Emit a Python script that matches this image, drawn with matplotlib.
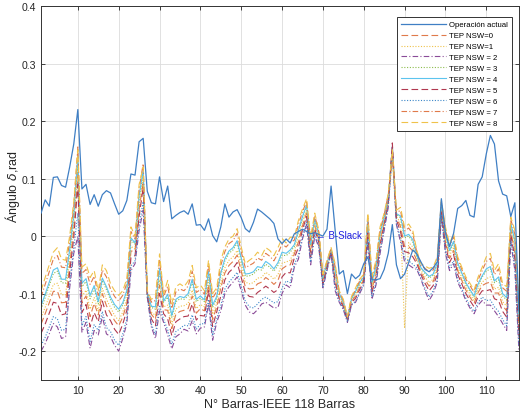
import numpy as np
import matplotlib
matplotlib.use("Agg")
import matplotlib.pyplot as plt

## ========================================================
## Datos: ángulos de las 118 barras (rad)
## ========================================================
operacion = [
    0.040, 0.063, 0.052, 0.102, 0.103, 0.088, 0.085, 0.120, 0.160, 0.220,
    0.082, 0.090, 0.055, 0.072, 0.052, 0.072, 0.079, 0.075, 0.056, 0.038,
    0.044, 0.062, 0.108, 0.106, 0.164, 0.170, 0.078, 0.058, 0.056, 0.103,
    0.060, 0.087, 0.030, 0.036, 0.041, 0.044, 0.038, 0.056, 0.019, 0.020,
    0.010, 0.030, 0.001, -0.010, 0.016, 0.056, 0.033, 0.042, 0.046, 0.032,
    0.013, 0.007, 0.024, 0.047, 0.042, 0.036, 0.030, 0.022, -0.005, -0.013,
    -0.005, -0.012, 0.004, 0.008, 0.012, 0.008, 0.004, 0.006, 0.003, 0.000,
    0.012, 0.087, 0.010, -0.066, -0.060, -0.100, -0.066, -0.074, -0.068, -0.048,
    -0.036, -0.076, -0.076, -0.074, -0.058, -0.030, 0.020, -0.050, -0.074, -0.066,
    -0.046, -0.024, -0.031, -0.045, -0.058, -0.062, -0.055, -0.045, 0.065, 0.005,
    -0.018, 0.005, 0.048, 0.053, 0.062, 0.036, 0.033, 0.090, 0.103, 0.143,
    0.175, 0.160, 0.096, 0.073, 0.070, 0.034, 0.058, -0.130,
]

tep_nsw0 = [
    -0.153, -0.135, -0.116, -0.096, -0.096, -0.116, -0.115, -0.050, 0.011, 0.110,
    -0.116, -0.104, -0.140, -0.117, -0.137, -0.100, -0.121, -0.134, -0.147, -0.156,
    -0.141, -0.117, -0.026, -0.026, 0.046, 0.095, -0.101, -0.136, -0.145, -0.085,
    -0.128, -0.129, -0.161, -0.136, -0.131, -0.129, -0.126, -0.104, -0.134, -0.126,
    -0.130, -0.084, -0.145, -0.123, -0.090, -0.064, -0.051, -0.044, -0.033, -0.061,
    -0.088, -0.092, -0.091, -0.083, -0.080, -0.072, -0.077, -0.084, -0.077, -0.057,
    -0.052, -0.050, -0.031, -0.010, 0.018, 0.040, -0.028, 0.018, -0.007, -0.079,
    -0.052, -0.026, -0.074, -0.106, -0.120, -0.146, -0.113, -0.104, -0.089, -0.076,
    0.013, -0.092, -0.066, -0.009, 0.024, 0.061, 0.150, 0.031, 0.017, -0.018,
    -0.018, -0.026, -0.043, -0.063, -0.076, -0.087, -0.079, -0.060, 0.046, -0.009,
    -0.039, -0.025, -0.060, -0.077, -0.094, -0.106, -0.117, -0.098, -0.086, -0.082,
    -0.080, -0.099, -0.099, -0.121, -0.130, 0.009, -0.029, -0.163,
]

tep_nsw1 = [
    -0.142, -0.124, -0.104, -0.084, -0.082, -0.102, -0.102, -0.041, 0.020, 0.120,
    -0.105, -0.094, -0.127, -0.107, -0.130, -0.091, -0.110, -0.124, -0.138, -0.147,
    -0.132, -0.109, -0.018, -0.022, 0.054, 0.100, -0.100, -0.132, -0.138, -0.076,
    -0.123, -0.120, -0.153, -0.127, -0.122, -0.121, -0.117, -0.094, -0.126, -0.119,
    -0.123, -0.076, -0.136, -0.117, -0.082, -0.055, -0.042, -0.036, -0.025, -0.053,
    -0.080, -0.083, -0.081, -0.073, -0.072, -0.063, -0.068, -0.075, -0.067, -0.047,
    -0.045, -0.042, -0.025, -0.003, 0.024, 0.045, -0.024, 0.022, -0.004, -0.077,
    -0.050, -0.025, -0.069, -0.104, -0.118, -0.145, -0.112, -0.101, -0.086, -0.075,
    0.018, -0.088, -0.061, -0.005, 0.027, 0.063, 0.135, 0.034, 0.023, -0.160,
    -0.011, -0.019, -0.040, -0.060, -0.071, -0.081, -0.075, -0.056, 0.049, -0.005,
    -0.034, -0.019, -0.056, -0.072, -0.089, -0.101, -0.112, -0.093, -0.080, -0.074,
    -0.071, -0.092, -0.089, -0.114, -0.122, 0.014, -0.022, -0.155,
]

tep_nsw2 = [
    -0.200, -0.187, -0.170, -0.152, -0.158, -0.178, -0.175, -0.090, -0.030, 0.000,
    -0.167, -0.150, -0.195, -0.164, -0.172, -0.140, -0.170, -0.175, -0.190, -0.200,
    -0.178, -0.152, -0.060, -0.048, 0.010, 0.045, -0.106, -0.158, -0.178, -0.130,
    -0.150, -0.172, -0.196, -0.175, -0.170, -0.162, -0.165, -0.147, -0.170, -0.160,
    -0.158, -0.118, -0.181, -0.150, -0.130, -0.100, -0.088, -0.080, -0.071, -0.095,
    -0.120, -0.132, -0.135, -0.128, -0.118, -0.115, -0.120, -0.125, -0.124, -0.100,
    -0.085, -0.090, -0.054, -0.040, -0.005, 0.020, -0.050, 0.000, -0.020, -0.090,
    -0.060, -0.030, -0.095, -0.115, -0.128, -0.150, -0.120, -0.115, -0.100, -0.085,
    -0.010, -0.110, -0.085, -0.030, 0.010, 0.050, 0.158, 0.020, -0.010, -0.045,
    -0.050, -0.055, -0.058, -0.075, -0.095, -0.112, -0.100, -0.080, 0.033, -0.030,
    -0.060, -0.048, -0.080, -0.095, -0.112, -0.125, -0.135, -0.120, -0.112, -0.120,
    -0.120, -0.130, -0.140, -0.152, -0.164, -0.010, -0.060, -0.200,
]

tep_nsw3 = [
    -0.127, -0.107, -0.086, -0.065, -0.061, -0.081, -0.082, -0.027, 0.033, 0.135,
    -0.088, -0.079, -0.109, -0.091, -0.118, -0.077, -0.093, -0.111, -0.124, -0.132,
    -0.120, -0.097, -0.007, -0.014, 0.066, 0.110, -0.098, -0.124, -0.127, -0.061,
    -0.115, -0.106, -0.141, -0.114, -0.109, -0.110, -0.104, -0.080, -0.114, -0.108,
    -0.114, -0.065, -0.124, -0.108, -0.068, -0.043, -0.030, -0.024, -0.012, -0.042,
    -0.070, -0.069, -0.066, -0.058, -0.059, -0.049, -0.054, -0.061, -0.051, -0.033,
    -0.034, -0.028, -0.018, 0.007, 0.031, 0.052, -0.016, 0.028, 0.001, -0.073,
    -0.047, -0.023, -0.062, -0.101, -0.115, -0.143, -0.110, -0.098, -0.083, -0.072,
    0.025, -0.082, -0.055, 0.002, 0.031, 0.067, 0.145, 0.038, 0.032, -0.003,
    0.000, -0.010, -0.035, -0.056, -0.065, -0.073, -0.068, -0.049, 0.053, 0.002,
    -0.027, -0.012, -0.049, -0.066, -0.083, -0.095, -0.106, -0.086, -0.071, -0.061,
    -0.057, -0.081, -0.076, -0.104, -0.111, 0.020, -0.011, -0.143,
]

tep_nsw4 = [
    -0.121, -0.101, -0.080, -0.059, -0.055, -0.075, -0.075, -0.023, 0.038, 0.140,
    -0.082, -0.074, -0.103, -0.086, -0.114, -0.073, -0.088, -0.106, -0.119, -0.127,
    -0.116, -0.094, -0.003, -0.012, 0.070, 0.115, -0.098, -0.122, -0.123, -0.056,
    -0.113, -0.101, -0.138, -0.110, -0.105, -0.107, -0.100, -0.075, -0.110, -0.104,
    -0.111, -0.061, -0.120, -0.105, -0.064, -0.039, -0.026, -0.020, -0.008, -0.038,
    -0.066, -0.065, -0.062, -0.053, -0.055, -0.044, -0.049, -0.057, -0.046, -0.028,
    -0.030, -0.024, -0.015, 0.010, 0.034, 0.054, -0.014, 0.030, 0.003, -0.072,
    -0.047, -0.023, -0.060, -0.100, -0.115, -0.143, -0.109, -0.096, -0.081, -0.071,
    0.028, -0.080, -0.053, 0.005, 0.033, 0.068, 0.155, 0.039, 0.035, 0.000,
    0.003, -0.006, -0.033, -0.055, -0.063, -0.070, -0.066, -0.047, 0.055, 0.005,
    -0.025, -0.009, -0.047, -0.064, -0.081, -0.093, -0.104, -0.083, -0.069, -0.057,
    -0.053, -0.078, -0.071, -0.100, -0.107, 0.022, -0.008, -0.139,
]

tep_nsw5 = [
    -0.169, -0.153, -0.134, -0.115, -0.117, -0.137, -0.135, -0.063, -0.003, 0.090,
    -0.133, -0.119, -0.158, -0.133, -0.149, -0.113, -0.137, -0.147, -0.162, -0.171,
    -0.153, -0.129, -0.037, -0.034, 0.034, 0.085, -0.103, -0.144, -0.156, -0.100,
    -0.135, -0.144, -0.173, -0.149, -0.144, -0.140, -0.139, -0.118, -0.146, -0.138,
    -0.139, -0.095, -0.157, -0.132, -0.104, -0.076, -0.063, -0.056, -0.046, -0.072,
    -0.098, -0.105, -0.106, -0.098, -0.093, -0.087, -0.092, -0.098, -0.093, -0.071,
    -0.063, -0.064, -0.038, -0.020, 0.011, 0.034, -0.036, 0.012, -0.011, -0.083,
    -0.055, -0.027, -0.081, -0.109, -0.123, -0.147, -0.116, -0.108, -0.093, -0.079,
    0.005, -0.098, -0.072, -0.016, 0.019, 0.057, 0.162, 0.028, 0.008, -0.027,
    -0.029, -0.036, -0.048, -0.067, -0.082, -0.095, -0.086, -0.067, 0.042, -0.016,
    -0.046, -0.032, -0.067, -0.083, -0.100, -0.112, -0.123, -0.105, -0.095, -0.095,
    -0.093, -0.109, -0.112, -0.131, -0.141, 0.003, -0.039, -0.175,
]

tep_nsw6 = [
    -0.190, -0.176, -0.158, -0.140, -0.144, -0.164, -0.162, -0.081, -0.021, 0.040,
    -0.156, -0.140, -0.183, -0.154, -0.164, -0.131, -0.159, -0.166, -0.181, -0.190,
    -0.170, -0.144, -0.052, -0.043, 0.018, 0.060, -0.105, -0.153, -0.171, -0.120,
    -0.145, -0.163, -0.188, -0.166, -0.161, -0.155, -0.156, -0.137, -0.162, -0.153,
    -0.152, -0.110, -0.173, -0.144, -0.121, -0.092, -0.080, -0.072, -0.063, -0.087,
    -0.113, -0.123, -0.125, -0.118, -0.110, -0.106, -0.111, -0.116, -0.114, -0.090,
    -0.078, -0.081, -0.049, -0.033, 0.000, 0.025, -0.045, 0.004, -0.017, -0.088,
    -0.058, -0.029, -0.090, -0.113, -0.126, -0.149, -0.119, -0.113, -0.098, -0.083,
    -0.005, -0.106, -0.081, -0.025, 0.013, 0.052, 0.140, 0.022, -0.004, -0.039,
    -0.043, -0.049, -0.055, -0.072, -0.091, -0.106, -0.095, -0.076, 0.036, -0.025,
    -0.055, -0.043, -0.076, -0.091, -0.108, -0.121, -0.131, -0.115, -0.106, -0.112,
    -0.111, -0.123, -0.131, -0.145, -0.156, -0.006, -0.053, -0.192,
]

tep_nsw7 = [
    -0.106, -0.084, -0.062, -0.040, -0.034, -0.054, -0.055, -0.009, 0.051, 0.155,
    -0.065, -0.058, -0.084, -0.070, -0.103, -0.059, -0.071, -0.092, -0.105, -0.113,
    -0.103, -0.082, 0.008, -0.005, 0.082, 0.126, -0.096, -0.115, -0.112, -0.041,
    -0.105, -0.087, -0.126, -0.097, -0.092, -0.095, -0.087, -0.061, -0.098, -0.093,
    -0.101, -0.050, -0.108, -0.096, -0.051, -0.027, -0.013, -0.008, 0.005, -0.027,
    -0.055, -0.051, -0.047, -0.038, -0.042, -0.030, -0.035, -0.043, -0.030, -0.014,
    -0.019, -0.011, -0.007, 0.020, 0.042, 0.061, -0.007, 0.036, 0.007, -0.068,
    -0.044, -0.021, -0.053, -0.097, -0.112, -0.141, -0.107, -0.093, -0.078, -0.068,
    0.035, -0.074, -0.046, 0.011, 0.037, 0.072, 0.140, 0.042, 0.044, 0.009,
    0.014, 0.004, -0.028, -0.051, -0.056, -0.062, -0.059, -0.040, 0.059, 0.011,
    -0.018, -0.001, -0.040, -0.058, -0.075, -0.086, -0.098, -0.076, -0.060, -0.044,
    -0.039, -0.067, -0.057, -0.090, -0.096, 0.029, 0.003, -0.126,
]

tep_nsw8 = [
    -0.095, -0.072, -0.050, -0.028, -0.020, -0.040, -0.042, 0.000, 0.060, 0.150,
    -0.054, -0.048, -0.072, -0.060, -0.095, -0.050, -0.060, -0.083, -0.095, -0.103,
    -0.095, -0.074, 0.016, 0.000, 0.090, 0.120, -0.095, -0.110, -0.105, -0.031,
    -0.100, -0.077, -0.118, -0.088, -0.083, -0.088, -0.078, -0.051, -0.090, -0.085,
    -0.095, -0.042, -0.100, -0.090, -0.042, -0.019, -0.005, 0.000, 0.013, -0.019,
    -0.048, -0.042, -0.037, -0.028, -0.034, -0.020, -0.025, -0.034, -0.020, -0.004,
    -0.012, -0.002, -0.002, 0.027, 0.047, 0.065, -0.002, 0.040, 0.010, -0.066,
    -0.042, -0.020, -0.048, -0.095, -0.110, -0.140, -0.105, -0.090, -0.075, -0.066,
    0.040, -0.070, -0.042, 0.016, 0.040, 0.074, 0.150, 0.045, 0.050, 0.015,
    0.021, 0.010, -0.025, -0.048, -0.052, -0.056, -0.054, -0.036, 0.062, 0.016,
    -0.013, 0.004, -0.036, -0.054, -0.071, -0.082, -0.094, -0.071, -0.054, -0.036,
    -0.030, -0.060, -0.048, -0.083, -0.088, 0.033, 0.010, -0.118,
]

etiquetas = ["TEP NSW=0", "TEP NSW=1", "TEP NSW = 2", "TEP NSW = 3", "TEP NSW = 4",
             "TEP NSW = 5", "TEP NSW = 6", "TEP NSW = 7", "TEP NSW = 8"]
series_tep = [tep_nsw0, tep_nsw1, tep_nsw2, tep_nsw3, tep_nsw4,
              tep_nsw5, tep_nsw6, tep_nsw7, tep_nsw8]

## estilos tipo MATLAB
colores = ["#e07a4a", "#efc24a", "#8a4b98", "#8cbc4c", "#5cc4ee",
           "#b0384f", "#3b86c8", "#e07a4a", "#efc24a"]
estilos = [(0, (6, 3)), (0, (1, 1.5)), (0, (5, 2, 1, 2)), (0, (1, 1.5)), "-",
           (0, (6, 3)), (0, (1, 1.5)), (0, (5, 2, 1, 2)), (0, (6, 3))]

plt.rcParams["font.family"] = ["Liberation Sans", "DejaVu Sans"]

fig = plt.figure(figsize=(5.2, 4.14), dpi=100)
ax = fig.add_axes([0.079, 0.080, 0.919, 0.903])

barras = np.arange(1, len(operacion) + 1)
ax.plot(barras, operacion, color="#3f7fc4", lw=0.9, label="Operación actual", zorder=3)
for y, lab, c, ls in zip(series_tep, etiquetas, colores, estilos):
    ax.plot(barras, y, color=c, lw=0.8, linestyle=ls, label=lab)

ax.text(68.4, 0.002, "← B-Slack", color="#1f1fe0", fontsize=7, va="center",
        family=["Liberation Sans", "DejaVu Sans"], zorder=4)

ax.set_xlim(1, 118)
ax.set_ylim(-0.25, 0.4)
ax.set_xticks(np.arange(10, 111, 10))
ax.set_yticks([-0.2, -0.1, 0, 0.1, 0.2, 0.3, 0.4])
ax.set_yticklabels(["-0.2", "-0.1", "0", "0.1", "0.2", "0.3", "0.4"])
ax.grid(True, color="#dcdcdc", lw=0.6)
ax.set_axisbelow(True)
ax.tick_params(direction="in", top=True, right=True, length=3, width=0.6,
               labelsize=7.6, colors="#262626")
for sp in ax.spines.values():
    sp.set_color("#333333")
    sp.set_linewidth(0.7)

ax.set_xlabel("N° Barras-IEEE 118 Barras", fontsize=9, color="#262626", labelpad=2)
ax.set_ylabel("Ángulo $\\delta$,rad", fontsize=9, color="#262626")
ax.yaxis.set_label_coords(-0.04, 0.52)

leg = ax.legend(loc="upper right", bbox_to_anchor=(0.994, 0.981), fontsize=5.6,
                frameon=True, fancybox=False, edgecolor="#333333", framealpha=1,
                handlelength=5.8, labelspacing=0.45, borderpad=0.5, handletextpad=0.4)
leg.get_frame().set_linewidth(0.7)

fig.savefig("out.png", dpi=100)
